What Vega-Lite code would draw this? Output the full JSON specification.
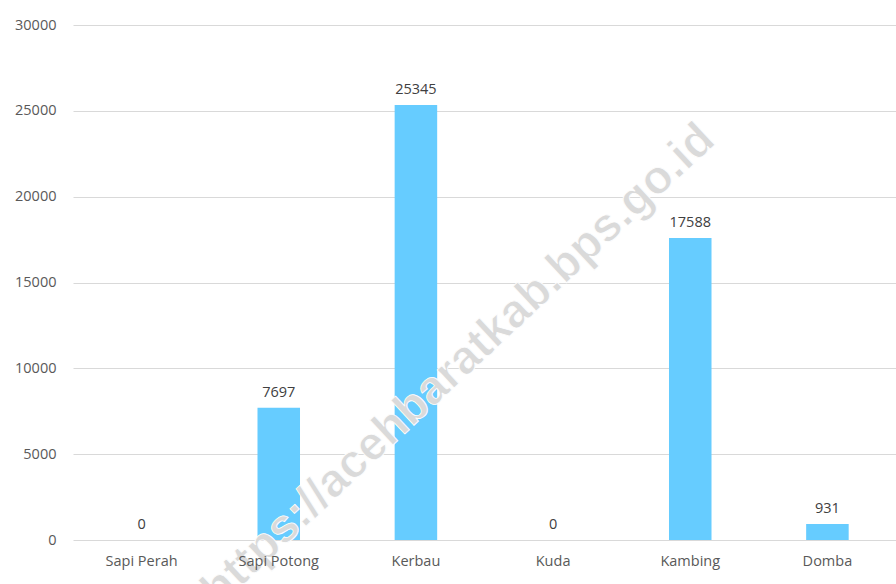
{
  "$schema": "https://vega.github.io/schema/vega-lite/v6.json",
  "width": 823,
  "height": 515,
  "autosize": {"type": "none"},
  "padding": {"left": 73, "top": 25, "right": 0, "bottom": 44},
  "background": "white",
  "config": {"view": {"stroke": null}, "font": "Open Sans"},
  "layer": [
    {
      "data": {"values": [
        {"jenis": "Sapi Perah", "jumlah": 0},
        {"jenis": "Sapi Potong", "jumlah": 7697},
        {"jenis": "Kerbau", "jumlah": 25345},
        {"jenis": "Kuda", "jumlah": 0},
        {"jenis": "Kambing", "jumlah": 17588},
        {"jenis": "Domba", "jumlah": 931}
      ]},
      "encoding": {
        "x": {"field": "jenis", "type": "nominal", "sort": null,
          "scale": {"domain": ["Sapi Perah", "Sapi Potong", "Kerbau", "Kuda", "Kambing", "Domba"], "paddingInner": 0.69, "paddingOuter": 0.345},
          "axis": {"title": null, "labelAngle": 0, "domain": false, "ticks": false, "zindex": 1,
            "labelColor": "#595959", "labelFontSize": 14.5, "labelPadding": 14, "labelFont": "Open Sans"}},
        "y": {"field": "jumlah", "type": "quantitative",
          "scale": {"domain": [0, 30000], "nice": false},
          "axis": {"title": null, "values": [0, 5000, 10000, 15000, 20000, 25000, 30000], "format": "d",
            "domain": false, "ticks": false, "gridColor": "#d9d9d9", "gridWidth": 1,
            "labelColor": "#595959", "labelFontSize": 14.5, "labelPadding": 17, "labelFont": "Open Sans"}}
      },
      "layer": [
        {"mark": {"type": "bar", "color": "#66ccff"}},
        {"mark": {"type": "text", "baseline": "bottom", "dy": -8, "color": "#404040", "fontSize": 14.5, "font": "Open Sans"},
          "encoding": {"text": {"field": "jumlah", "type": "quantitative", "format": "d"}}}
      ]
    },
    {
      "data": {"values": [{"jenis": "Kerbau", "jumlah": 7900, "teks": "https://acehbaratkab.bps.go.id"}]},
      "mark": {"type": "text", "angle": -43, "dx": 58, "fontSize": 47, "fontWeight": "bold", "font": "Liberation Sans",
        "color": "#dadada", "stroke": "white", "strokeWidth": 0.8, "align": "center", "baseline": "middle"},
      "encoding": {
        "x": {"field": "jenis", "type": "nominal", "sort": null},
        "y": {"field": "jumlah", "type": "quantitative"},
        "text": {"field": "teks"}
      }
    }
  ]
}
